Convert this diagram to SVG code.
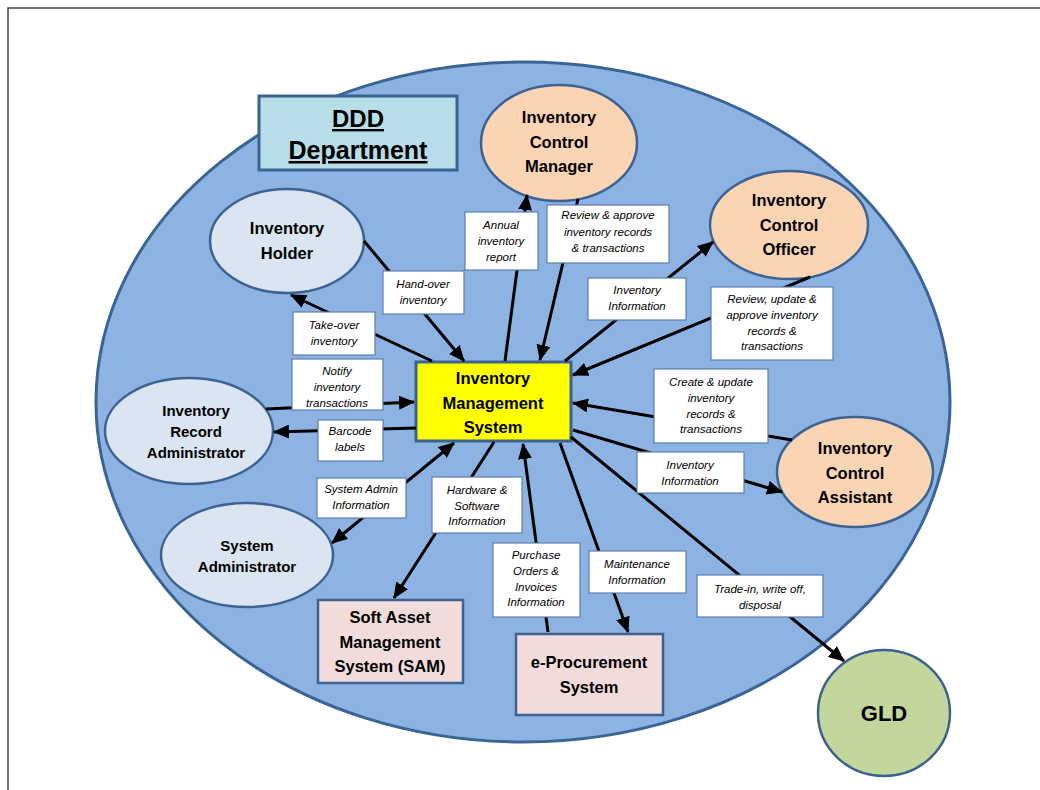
<svg xmlns="http://www.w3.org/2000/svg" width="1040" height="790" viewBox="0 0 1040 790">
<defs>
<marker id="ah" viewBox="0 0 16 14" refX="15" refY="7" markerWidth="16" markerHeight="14" markerUnits="userSpaceOnUse" orient="auto-start-reverse">
<path d="M0,0 L16,7 L0,14 z" fill="#000"/>
</marker>
<style>
.node{stroke:#3b6290;stroke-width:2.5}
.peach{fill:#fbd4b4}
.blue{fill:#dbe5f1}
.pink{fill:#f2dcdb}
.nt{font-family:"Liberation Sans",Arial,sans-serif;font-weight:bold;font-size:16.5px;fill:#000;text-anchor:middle}
.lb{fill:#fff;stroke:#5b7fae;stroke-width:1.2}
.lt{font-family:"Liberation Sans",Arial,sans-serif;font-style:italic;font-size:11.5px;fill:#000;text-anchor:middle}
.cn{stroke:#000;stroke-width:3;fill:none}
</style>
</defs>
<rect width="1040" height="790" fill="#fff"/>
<path d="M8,790 L8,8 L1040,8" fill="none" stroke="#444" stroke-width="1.5"/>

<g id="ddd-boundary">
<ellipse cx="523" cy="402" rx="427" ry="340" fill="#8db3e2" stroke="#3b6496" stroke-width="3"/>
</g>

<g id="ddd-department">
<rect x="259" y="96" width="198" height="74" fill="#b7dde8" stroke="#3b6290" stroke-width="3"/>
<text x="358" y="127" class="nt" style="font-size:24px;text-decoration:underline">DDD</text>
<text x="358" y="159" class="nt" style="font-size:25px;text-decoration:underline">Department</text>
</g>

<g id="inventory-control-manager">
<ellipse class="node peach" cx="559" cy="143" rx="78" ry="58"/>
<text class="nt" x="559" y="123">Inventory</text>
<text class="nt" x="559" y="148">Control</text>
<text class="nt" x="559" y="172">Manager</text>
</g>

<g id="inventory-control-officer">
<ellipse class="node peach" cx="789" cy="225" rx="79" ry="54"/>
<text class="nt" x="789" y="206">Inventory</text>
<text class="nt" x="789" y="231">Control</text>
<text class="nt" x="789" y="255">Officer</text>
</g>

<g id="inventory-holder">
<ellipse class="node blue" cx="287" cy="241" rx="77" ry="52"/>
<text class="nt" x="287" y="234">Inventory</text>
<text class="nt" x="287" y="259">Holder</text>
</g>

<g id="inventory-record-administrator">
<ellipse class="node blue" cx="189" cy="431" rx="84" ry="53"/>
<text class="nt" x="196" y="416" style="font-size:15px">Inventory</text>
<text class="nt" x="196" y="437" style="font-size:15px">Record</text>
<text class="nt" x="196" y="458" style="font-size:15px">Administrator</text>
</g>

<g id="system-administrator">
<ellipse class="node blue" cx="247" cy="555" rx="86" ry="52"/>
<text class="nt" x="247" y="551" style="font-size:15px">System</text>
<text class="nt" x="247" y="572" style="font-size:15px">Administrator</text>
</g>

<g id="inventory-control-assistant">
<ellipse class="node peach" cx="855" cy="472" rx="78" ry="55"/>
<text class="nt" x="855" y="454">Inventory</text>
<text class="nt" x="855" y="479">Control</text>
<text class="nt" x="855" y="503">Assistant</text>
</g>

<g id="gld">
<ellipse class="node" cx="884" cy="713" rx="66" ry="63" fill="#c3d69b"/>
<text class="nt" x="884" y="721" style="font-size:22px">GLD</text>
</g>

<g id="inventory-management-system">
<rect x="416" y="362" width="155" height="79" fill="#ffff00" stroke="#3b6290" stroke-width="3"/>
<text class="nt" x="493" y="384">Inventory</text>
<text class="nt" x="493" y="409">Management</text>
<text class="nt" x="493" y="433">System</text>
</g>

<g id="sam">
<rect class="node pink" x="318" y="600" width="145" height="83"/>
<text class="nt" x="390" y="623">Soft Asset</text>
<text class="nt" x="390" y="648">Management</text>
<text class="nt" x="390" y="672">System (SAM)</text>
</g>

<g id="e-procurement">
<rect class="node pink" x="516" y="634" width="147" height="81"/>
<text class="nt" x="589" y="668">e-Procurement</text>
<text class="nt" x="589" y="693">System</text>
</g>

<g id="connectors">
<line class="cn" x1="505" y1="361" x2="527" y2="195" marker-end="url(#ah)"/>
<line class="cn" x1="578" y1="199" x2="540" y2="360" marker-end="url(#ah)"/>
<line class="cn" x1="565" y1="361" x2="713" y2="242" marker-end="url(#ah)"/>
<line class="cn" x1="810" y1="277" x2="573" y2="375" marker-end="url(#ah)"/>
<line class="cn" x1="364" y1="241" x2="464" y2="361" marker-end="url(#ah)"/>
<line class="cn" x1="432" y1="361" x2="291" y2="295" marker-end="url(#ah)"/>
<line class="cn" x1="266" y1="409" x2="414" y2="402" marker-end="url(#ah)"/>
<line class="cn" x1="416" y1="428" x2="274" y2="432" marker-end="url(#ah)"/>
<line class="cn" x1="792" y1="440" x2="573" y2="403" marker-end="url(#ah)"/>
<line class="cn" x1="573" y1="430" x2="782" y2="492" marker-end="url(#ah)"/>
<line class="cn" x1="454" y1="443" x2="332" y2="543" marker-start="url(#ah)" marker-end="url(#ah)"/>
<line class="cn" x1="494" y1="442" x2="394" y2="598" marker-end="url(#ah)"/>
<line class="cn" x1="548" y1="632" x2="523" y2="444" marker-end="url(#ah)"/>
<line class="cn" x1="560" y1="443" x2="628" y2="632" marker-end="url(#ah)"/>
<line class="cn" x1="571" y1="437" x2="844" y2="661" marker-end="url(#ah)"/>
</g>

<g id="labels">
<rect class="lb" x="465" y="212" width="73" height="58"/>
<text class="lt" x="501" y="229">Annual</text>
<text class="lt" x="501" y="245">inventory</text>
<text class="lt" x="501" y="261">report</text>

<rect class="lb" x="547" y="205" width="122" height="58"/>
<text class="lt" x="608" y="219">Review &amp; approve</text>
<text class="lt" x="608" y="236">inventory records</text>
<text class="lt" x="608" y="252">&amp; transactions</text>

<rect class="lb" x="588" y="278" width="98" height="42"/>
<text class="lt" x="637" y="294">Inventory</text>
<text class="lt" x="637" y="310">Information</text>

<rect class="lb" x="711" y="287" width="122" height="73"/>
<text class="lt" x="772" y="303">Review, update &amp;</text>
<text class="lt" x="772" y="319">approve inventory</text>
<text class="lt" x="772" y="335">records &amp;</text>
<text class="lt" x="772" y="350">transactions</text>

<rect class="lb" x="383" y="271" width="81" height="43"/>
<text class="lt" x="423" y="288">Hand-over</text>
<text class="lt" x="423" y="304">inventory</text>

<rect class="lb" x="293" y="312" width="82" height="43"/>
<text class="lt" x="334" y="329">Take-over</text>
<text class="lt" x="334" y="345">inventory</text>

<rect class="lb" x="292" y="359" width="91" height="51"/>
<text class="lt" x="337" y="375">Notify</text>
<text class="lt" x="337" y="391">inventory</text>
<text class="lt" x="337" y="407">transactions</text>

<rect class="lb" x="318" y="420" width="65" height="41"/>
<text class="lt" x="350" y="435">Barcode</text>
<text class="lt" x="350" y="451">labels</text>

<rect class="lb" x="654" y="369" width="114" height="74"/>
<text class="lt" x="711" y="386">Create &amp; update</text>
<text class="lt" x="711" y="402">inventory</text>
<text class="lt" x="711" y="418">records &amp;</text>
<text class="lt" x="711" y="433">transactions</text>

<rect class="lb" x="637" y="452" width="107" height="41"/>
<text class="lt" x="690" y="469">Inventory</text>
<text class="lt" x="690" y="485">Information</text>

<rect class="lb" x="317" y="478" width="89" height="40"/>
<text class="lt" x="361" y="493">System Admin</text>
<text class="lt" x="361" y="509">Information</text>

<rect class="lb" x="432" y="477" width="90" height="56"/>
<text class="lt" x="477" y="494">Hardware &amp;</text>
<text class="lt" x="477" y="510">Software</text>
<text class="lt" x="477" y="525">Information</text>

<rect class="lb" x="493" y="543" width="87" height="74"/>
<text class="lt" x="536" y="559">Purchase</text>
<text class="lt" x="536" y="575">Orders &amp;</text>
<text class="lt" x="536" y="591">Invoices</text>
<text class="lt" x="536" y="606">Information</text>

<rect class="lb" x="589" y="551" width="97" height="42"/>
<text class="lt" x="637" y="568">Maintenance</text>
<text class="lt" x="637" y="584">Information</text>

<rect class="lb" x="697" y="575" width="126" height="42"/>
<text class="lt" x="760" y="593">Trade-in, write off,</text>
<text class="lt" x="760" y="609">disposal</text>
</g>
</svg>
